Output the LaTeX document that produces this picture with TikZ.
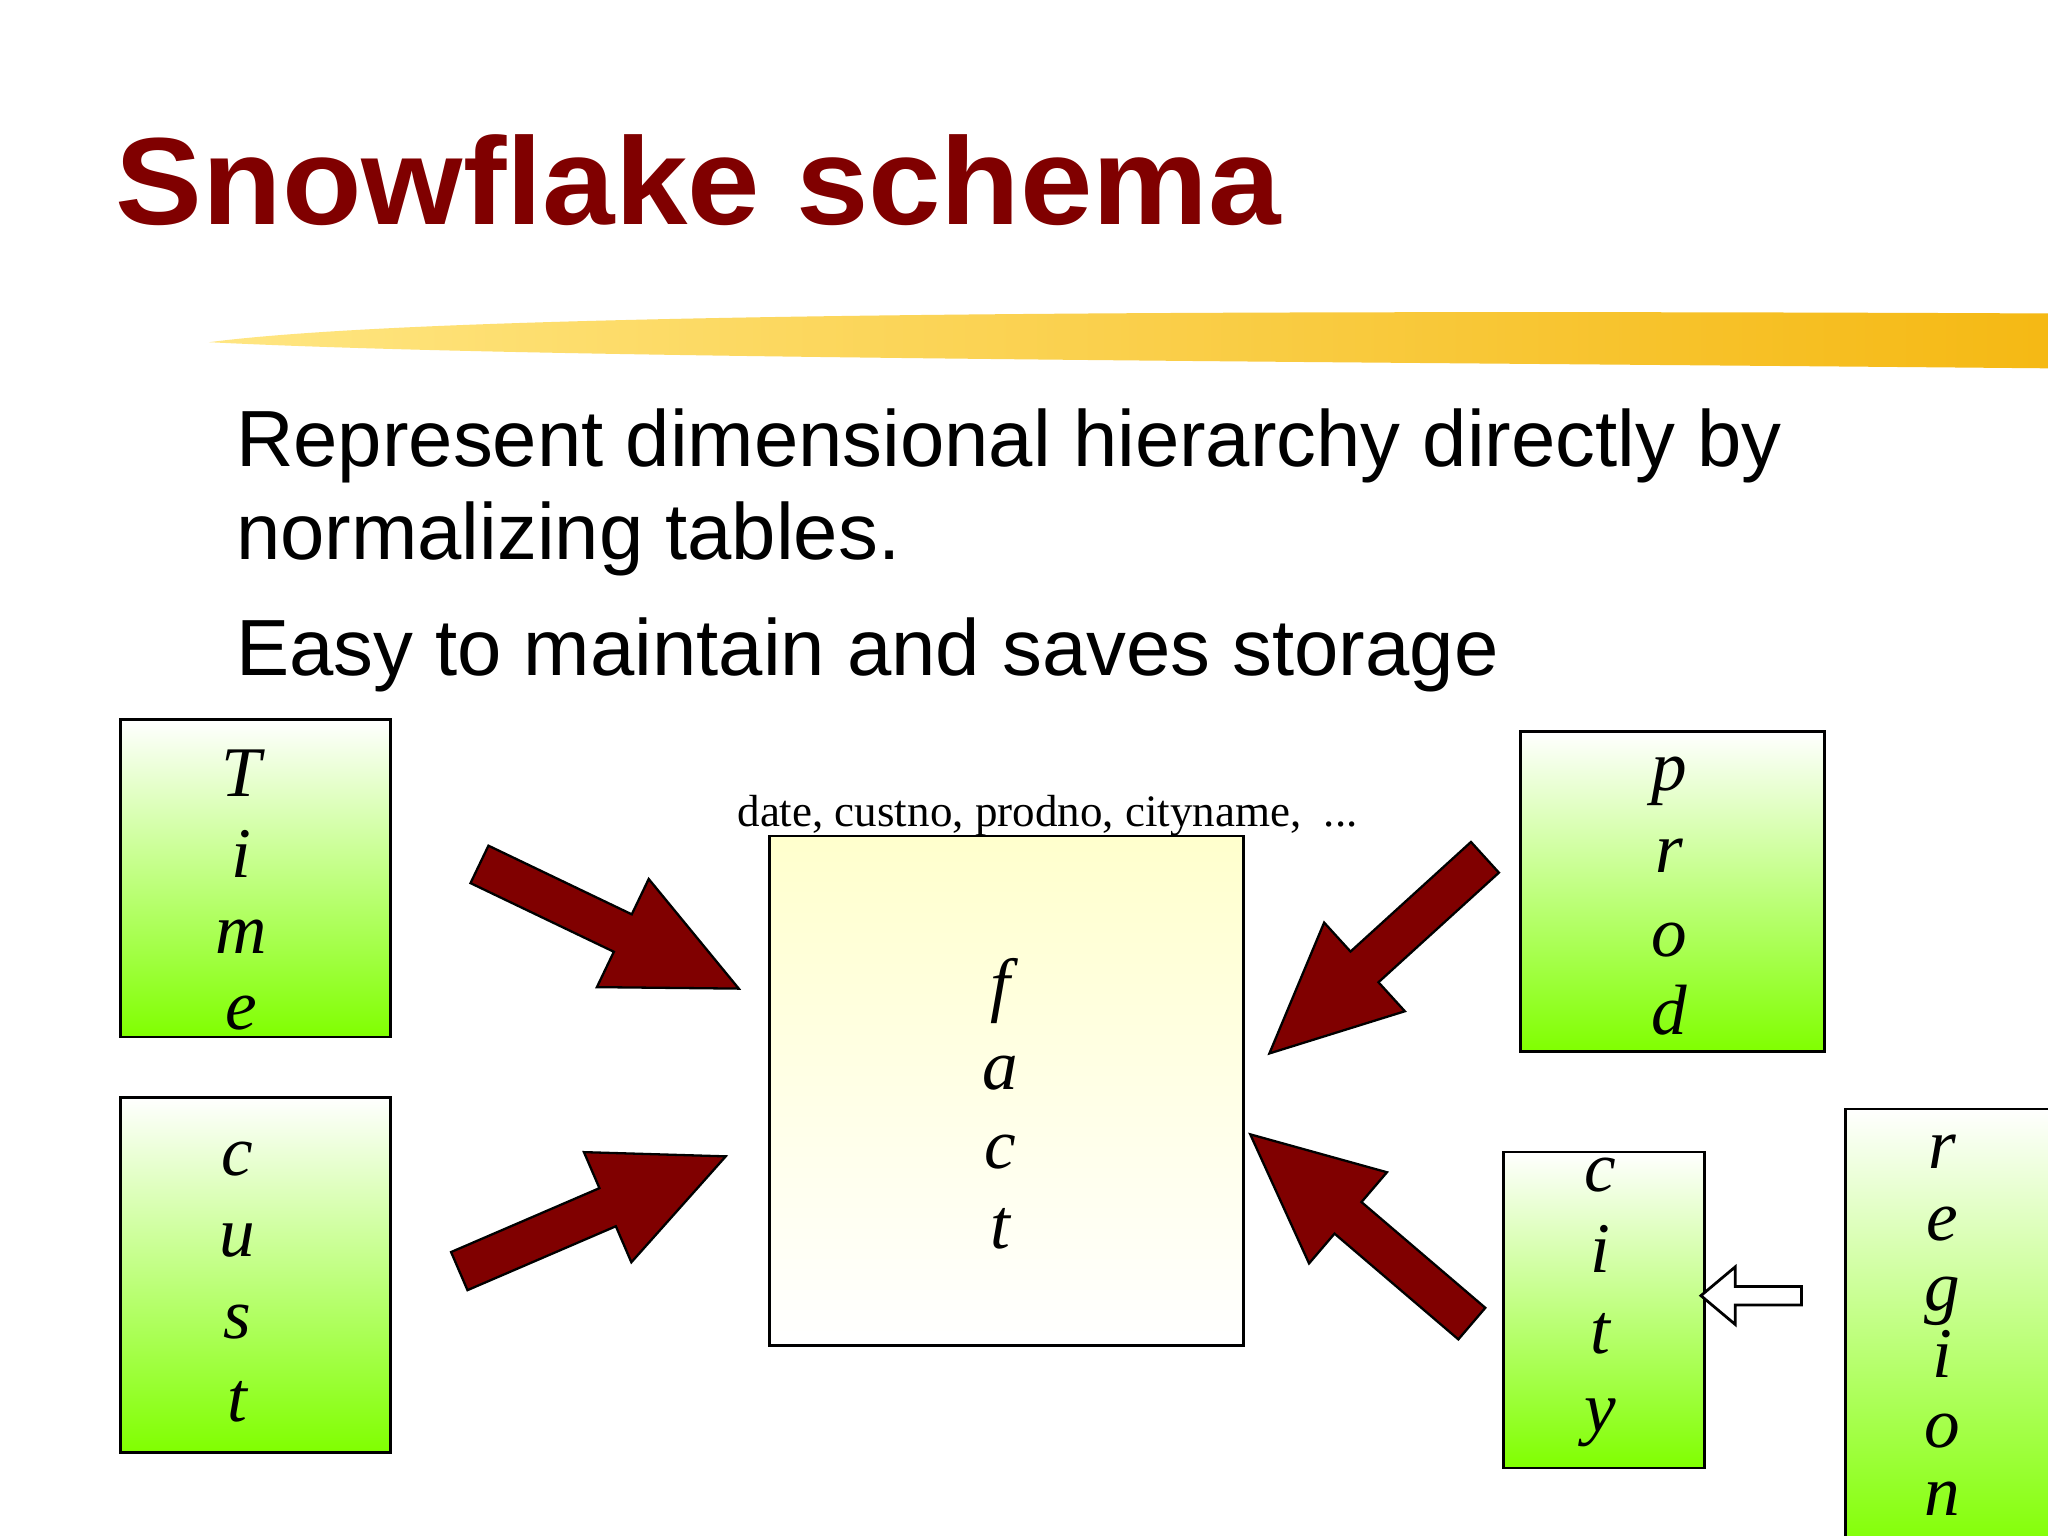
\documentclass[tikz,border=0pt]{standalone}
\usepackage{fontspec}
\setmainfont{Liberation Serif}
\setsansfont{Liberation Sans}
\usetikzlibrary{shapes.arrows}
\definecolor{dred}{RGB}{128,0,0}
\definecolor{lgreen}{RGB}{128,255,0}
\definecolor{lyel}{RGB}{255,255,205}
\tikzset{
 gbox/.style={draw=black,line width=0.6pt,top color=white,bottom color=lgreen},
 letter/.style={font=\fontsize{15.5}{15.5}\selectfont\itshape,anchor=base},
 bigarrow/.style={single arrow,draw=black,fill=dred,line width=0.5pt,single arrow head extend=0.3cm,single arrow tip angle=50,inner sep=0.15cm},
 whitearrow/.style={single arrow,draw=black,fill=white,line width=0.6pt,single arrow head extend=0.15cm,single arrow tip angle=80,inner sep=0.06cm,minimum height=0.77cm}
}
\begin{document}
\begin{tikzpicture}[x=0.01cm,y=-0.01cm]
\useasboundingbox (0,0) rectangle (1568,1176);
\fill[white] (0,0) rectangle (1568,1176);
% brush stroke
\shade[left color={rgb,255:red,255;green,230;blue,130},right color={rgb,255:red,245;green,185;blue,20}]
 (160,262) .. controls (300,244) and (700,236) .. (1568,240) -- (1568,282) .. controls (900,276) and (400,274) .. (160,262) -- cycle;
% title
\node[anchor=base west,inner sep=0,text=dred,font=\sffamily\bfseries\fontsize{27}{27}\selectfont,xscale=1.05] (title) at (88,172) {Snowflake schema};
\node[anchor=base west,inner sep=0,font=\sffamily\fontsize{17.35}{17.35}\selectfont] (l1) at (180,357) {Represent dimensional hierarchy directly by};
\node[anchor=base west,inner sep=0,font=\sffamily\fontsize{17.35}{17.35}\selectfont] (l2) at (180,428) {normalizing tables.};
\node[anchor=base west,inner sep=0,font=\sffamily\fontsize{17.35}{17.35}\selectfont] (l3) at (180,517) {Easy to maintain and saves storage};
% boxes
\draw[gbox] (92,551) rectangle (299,794);
\draw[gbox] (92,840) rectangle (299,1112);
\draw[gbox] (1164,560) rectangle (1397,805);
\draw[gbox] (1151,882) rectangle (1305,1124);
\draw[gbox] (1413,849) rectangle (1580,1190);
\draw[draw=black,line width=0.6pt,top color=lyel,bottom color=white] (589,640) rectangle (952,1030);
\node[anchor=base,font=\fontsize{9.8}{9.8}\selectfont] (lab) at (802,633) {date, custno, prodno, cityname,\ \ ...};
% letters
\foreach \t/\y [count=\i] in {T/610,i/672,m/730,e/788} \node[letter] (time\i) at (185,\y) {\t};
\foreach \t/\y [count=\i] in {c/900,u/962,s/1025,t/1088} \node[letter] (cust\i) at (182,\y) {\t};
\foreach \t/\y [count=\i] in {p/605,r/668,o/732,d/792} \node[letter] (prod\i) at (1278,\y) {\t};
\foreach \t/\y [count=\i] in {c/912,i/974,t/1036,y/1096} \node[letter] (city\i) at (1225,\y) {\t};
\foreach \t/\y [count=\i] in {r/895,e/950,g/1003,i/1055,o/1108,n/1160} \node[letter] (reg\i) at (1487,\y) {\t};
\foreach \t/\y [count=\i] in {f/772,a/834,c/895,t/956} \node[letter] (fact\i) at (766,\y) {\t};
% arrows
\node[bigarrow,minimum height=2.2cm,rotate=-25.6] (a1) at (451,702) {};
\node[bigarrow,minimum height=2.22cm,rotate=23.3] (a2) at (438,936) {};
\node[bigarrow,minimum height=2.23cm,rotate=222.3] (a3) at (1067,720) {};
\node[bigarrow,minimum height=2.23cm,rotate=139.5] (a4) at (1055,952) {};
\node[whitearrow,rotate=180] (wa) at (1345,992) {};
\end{tikzpicture}
\end{document}
